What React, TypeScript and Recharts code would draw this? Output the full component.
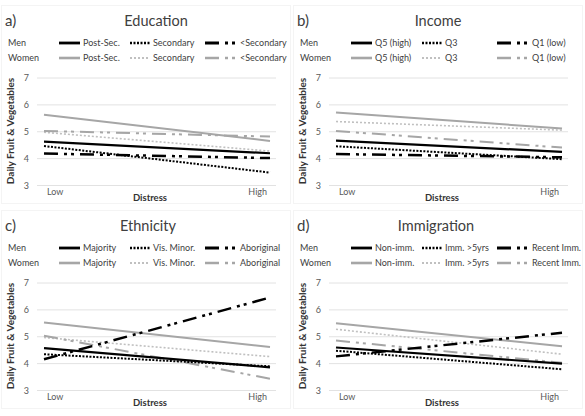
import { LineChart, Line, XAxis, YAxis, CartesianGrid } from 'recharts';

const distressLevels = ['Low', 'High'];
const yTicks = [3, 4, 5, 6, 7];

// a) Education
const eduLabels = ['Post-Sec.', 'Secondary', '<Secondary'];
const eduMenPostSec = [4.63, 4.2];
const eduMenSecondary = [4.47, 3.48];
const eduMenLessSec = [4.19, 4.02];
const eduWomenPostSec = [5.63, 4.66];
const eduWomenSecondary = [4.98, 4.28];
const eduWomenLessSec = [5.03, 4.82];

// b) Income
const incLabels = ['Q5 (high)', 'Q3', 'Q1 (low)'];
const incMenQ5 = [4.67, 4.25];
const incMenQ3 = [4.46, 3.98];
const incMenQ1 = [4.17, 4.05];
const incWomenQ5 = [5.72, 5.12];
const incWomenQ3 = [5.38, 5.06];
const incWomenQ1 = [5.03, 4.41];

// c) Ethnicity
const ethLabels = ['Majority', 'Vis. Minor.', 'Aboriginal'];
const ethMenMajority = [4.58, 3.86];
const ethMenVisMinor = [4.35, 3.9];
const ethMenAboriginal = [4.16, 6.46];
const ethWomenMajority = [5.53, 4.62];
const ethWomenVisMinor = [4.97, 4.26];
const ethWomenAboriginal = [5.04, 3.44];

// d) Immigration
const immLabels = ['Non-imm.', 'Imm. >5yrs', 'Recent Imm.'];
const immMenNon = [4.6, 4.0];
const immMenOld = [4.48, 3.79];
const immMenRecent = [4.27, 5.15];
const immWomenNon = [5.5, 4.65];
const immWomenOld = [5.28, 4.35];
const immWomenRecent = [4.86, 4.03];

const DASH_DOT = '14 6 3 4 3 6';
const menStyles = [
  { stroke: '#000', width: 2.2, dash: undefined as string | undefined },
  { stroke: '#000', width: 2, dash: '2 1.5' },
  { stroke: '#000', width: 2.5, dash: DASH_DOT },
];
const womenStyles = [
  { stroke: '#a6a6a6', width: 2, dash: undefined as string | undefined },
  { stroke: '#c0c0c0', width: 1.6, dash: '2 2' },
  { stroke: '#a6a6a6', width: 2, dash: DASH_DOT },
];

// legend column positions: [sample start, sample end, text start]
const legendCols = [
  [59, 80, 83],
  [130, 150, 153],
  [205, 237, 240],
];

const textColor = '#404040';
const tickColor = '#595959';

const DistressTick = (props: any) => {
  const { x, y, payload } = props;
  const first = payload.value === 0;
  return (
    <text
      x={first ? x + 3 : x - 3}
      y={y}
      dy="0.71em"
      textAnchor={first ? 'start' : 'end'}
      fontSize={9}
      fill={tickColor}
    >
      {distressLevels[payload.value]}
    </text>
  );
};

function LegendRow({ who, labels, styles, y }: { who: string; labels: string[]; styles: any[]; y: number }) {
  return (
    <>
      <div style={{ position: 'absolute', left: 8, top: y - 7, fontSize: 9, lineHeight: '14px', color: textColor }}>{who}</div>
      {legendCols.map(([s, e, t], i) => (
        <div key={i}>
          <svg style={{ position: 'absolute', left: s, top: y - 3 }} width={e - s} height={6}>
            <line x1={0} y1={3} x2={e - s} y2={3} stroke={styles[i].stroke}
              strokeWidth={styles[i].width + 0.6} strokeDasharray={styles[i].dash} />
          </svg>
          <div style={{ position: 'absolute', left: t, top: y - 7, fontSize: 9, lineHeight: '14px', color: textColor, whiteSpace: 'nowrap' }}>
            {labels[i]}
          </div>
        </div>
      ))}
    </>
  );
}

type PanelProps = {
  letter: string;
  title: string;
  labels: string[];
  men: number[][];
  women: number[][];
  left: number;
  top: number;
  titleX: number;
};

function Panel({ letter, title, labels, men, women, left, top, titleX }: PanelProps) {
  const rows = distressLevels.map((_, i) => ({
    x: i,
    m0: men[0][i], m1: men[1][i], m2: men[2][i],
    w0: women[0][i], w1: women[1][i], w2: women[2][i],
  }));
  return (
    <div style={{ position: 'absolute', left, top, width: 292, height: 208 }}>
      <div style={{ position: 'absolute', left: 1, top: 5, width: 288, height: 197, border: '1px solid #f4f4f4' }} />
      <div style={{ position: 'absolute', left: 5, top: 11, fontSize: 15, lineHeight: '18px', color: textColor }}>{letter}</div>
      <div style={{ position: 'absolute', left: titleX - 60, width: 120, top: 12, textAlign: 'center', fontSize: 14.5, lineHeight: '18px', color: textColor }}>{title}</div>
      <LegendRow who="Men" labels={labels} styles={menStyles} y={43} />
      <LegendRow who="Women" labels={labels} styles={womenStyles} y={58} />
      <div style={{ position: 'absolute', left: 0, top: 0 }}>
        <LineChart width={292} height={208} data={rows} margin={{ top: 78, right: 16, left: 7, bottom: 8.5 }}>
          <CartesianGrid vertical={false} stroke="#e2e2e2" />
          <XAxis dataKey="x" type="number" domain={[0, 1]} ticks={[0, 1]} interval={0}
            padding={{ left: 7, right: 6 }} axisLine={false} tickLine={false} tickSize={0} tickMargin={3}
            height={14} tick={<DistressTick />} />
          <YAxis type="number" domain={[3, 7]} ticks={yTicks} interval={0} axisLine={false} tickLine={false}
            width={30} tick={{ fontSize: 9, fill: tickColor }} />
          {womenStyles.map((s, i) => (
            <Line key={'w' + i} dataKey={'w' + i} stroke={s.stroke} strokeWidth={s.width} strokeDasharray={s.dash}
              dot={false} activeDot={false} isAnimationActive={false} />
          ))}
          {menStyles.map((s, i) => (
            <Line key={'m' + i} dataKey={'m' + i} stroke={s.stroke} strokeWidth={s.width} strokeDasharray={s.dash}
              dot={false} activeDot={false} isAnimationActive={false} />
          ))}
        </LineChart>
      </div>
      <div style={{ position: 'absolute', left: 10 - 60, top: 131 - 7, width: 120, textAlign: 'center', fontSize: 10, lineHeight: '14px', fontWeight: 'bold', color: '#333', transform: 'rotate(-90deg)', whiteSpace: 'nowrap' }}>
        Daily Fruit &amp; Vegetables
      </div>
      <div style={{ position: 'absolute', left: 150 - 40, top: 192, width: 80, textAlign: 'center', fontSize: 9.5, lineHeight: '12px', fontWeight: 'bold', color: '#333' }}>
        Distress
      </div>
    </div>
  );
}

export default function App() {
  return (
    <div style={{ position: 'absolute', left: 0, top: 0, width: 585, height: 416, background: '#fff', fontFamily: 'Lato, "Open Sans", sans-serif', overflow: 'hidden' }}>
      <Panel letter="a)" title="Education" labels={eduLabels}
        men={[eduMenPostSec, eduMenSecondary, eduMenLessSec]}
        women={[eduWomenPostSec, eduWomenSecondary, eduWomenLessSec]}
        left={0} top={0} titleX={156} />
      <Panel letter="b)" title="Income" labels={incLabels}
        men={[incMenQ5, incMenQ3, incMenQ1]}
        women={[incWomenQ5, incWomenQ3, incWomenQ1]}
        left={292} top={0} titleX={146} />
      <Panel letter="c)" title="Ethnicity" labels={ethLabels}
        men={[ethMenMajority, ethMenVisMinor, ethMenAboriginal]}
        women={[ethWomenMajority, ethWomenVisMinor, ethWomenAboriginal]}
        left={0} top={205} titleX={148} />
      <Panel letter="d)" title="Immigration" labels={immLabels}
        men={[immMenNon, immMenOld, immMenRecent]}
        women={[immWomenNon, immWomenOld, immWomenRecent]}
        left={292} top={205} titleX={144} />
    </div>
  );
}
